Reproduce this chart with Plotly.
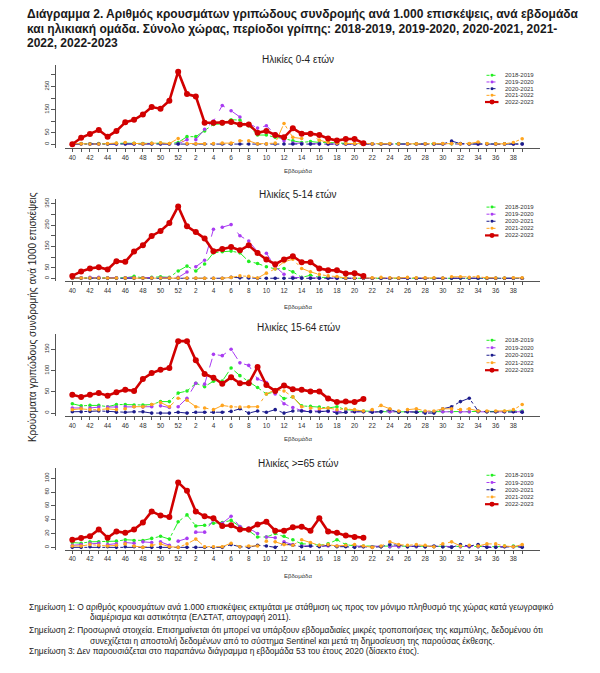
import plotly.graph_objects as go

# The page body has an 8px margin, so the figure is shrunk and shifted to fit the 600x673 window.
WIN_W, WIN_H, BODY = 600, 673, 8
W, H = WIN_W - 2 * BODY, WIN_H - 2 * BODY

weeks = [str(w) for w in list(range(40, 53)) + list(range(1, 40))]
tick_text = [w if int(w) % 2 == 0 else "" for w in weeks]

series_names = ["2018-2019", "2019-2020", "2020-2021", "2021-2022", "2022-2023"]
panel_titles = ["Ηλικίες 0-4 ετών", "Ηλικίες 5-14 ετών", "Ηλικίες 15-64 ετών", "Ηλικίες >=65 ετών"]

# ---- Ηλικίες 0-4 ----
p1_2018 = [2,3,2,3,2,4,5,4,3,4,5,3,8,
           33,33,58,86,88,106,105,80,40,40,30,25,15,8,12,8,8,5,3,2,2,2,2,2,3,2,2,2,2,2,2,2,2,2,2,2,2,2,2]
p1_2019 = [1,2,1,1,2,1,2,1,1,3,2,1,2,
           20,20,65,100,168,145,118,90,70,80,45,15,5,3,2,2,1,1,1,1,1,1,1,1,1,1,1,1,1,2,3,2,1,1,1,1,1,1,1]
p1_2020 = [1,1,1,1,1,1,1,1,1,1,1,1,1,
           1,1,1,1,1,1,1,1,1,1,1,1,1,1,1,1,1,1,1,1,1,1,1,1,1,1,1,1,1,1,14,3,1,1,1,1,1,1,1]
p1_2021 = [3,2,1,1,3,5,8,4,2,4,6,3,25,
           3,2,2,3,5,5,15,15,2,2,5,90,30,25,40,18,8,5,3,3,3,2,2,3,2,2,2,2,3,3,3,2,3,10,3,2,2,8,24]
p1_2022 = [0,28,45,62,33,58,95,106,129,161,154,188,314,
           217,207,93,93,93,96,86,86,50,58,40,30,69,46,46,40,25,16,23,23,5]

# ---- Ηλικίες 5-14 ----
p2_2018 = [3,3,3,3,3,3,3,10,3,5,8,5,35,
           58,35,68,120,125,128,120,80,70,55,45,47,31,5,15,5,5,3,2,1,1,1,1,1,1,1,1,1,1,1,1,1,1,1,1,1,1,1,1]
p2_2019 = [3,3,5,5,3,3,3,3,3,3,3,3,5,
           30,55,85,230,240,252,200,175,125,118,55,20,5,3,2,2,2,1,1,1,1,1,1,1,1,1,1,1,1,1,3,3,2,2,1,1,1,1,1]
p2_2020 = [1,1,1,1,1,1,1,1,1,1,1,1,1,
           1,1,1,1,1,5,3,2,1,1,1,1,1,1,1,1,1,1,1,1,1,1,1,1,1,1,1,1,1,1,1,2,2,1,1,1,1,1,1]
p2_2021 = [2,2,2,2,2,2,2,2,2,2,2,2,2,
           2,2,1,1,1,5,12,10,2,25,45,78,90,47,31,19,12,9,2,2,3,3,5,3,2,5,3,3,3,2,8,8,5,8,3,2,2,3,3]
p2_2022 = [12,33,47,53,42,81,78,126,155,199,222,259,337,
           244,217,187,127,138,147,132,155,119,89,67,89,104,76,76,47,39,38,23,24,12]

# ---- Ηλικίες 15-64 ----
p3_2018 = [22,17,18,18,15,20,20,19,19,20,27,27,47,
           52,70,62,75,75,106,88,75,60,45,50,34,38,17,16,14,12,15,8,6,5,4,3,3,3,3,3,3,3,3,3,3,3,3,3,3,4,5,5]
p3_2019 = [12,12,12,14,14,14,15,15,14,15,17,13,15,
           35,70,68,138,135,150,118,112,80,72,45,22,13,6,5,5,4,4,3,3,3,3,3,3,3,3,3,3,3,3,3,3,3,3,3,3,3,3,3]
p3_2020 = [3,3,4,5,4,2,2,3,3,0,0,0,2,
           0,2,2,2,2,4,10,0,5,2,8,0,5,5,3,3,5,0,2,3,3,2,3,8,2,3,2,0,0,10,15,27,35,5,3,3,3,3,2]
p3_2021 = [8,10,8,8,10,8,10,15,15,20,25,15,35,
           30,15,12,8,18,15,14,15,15,45,55,52,38,15,12,10,12,8,10,8,5,8,18,10,5,8,10,5,5,10,10,8,10,5,5,5,5,8,20]
p3_2022 = [43,38,43,47,41,49,55,52,80,94,102,106,169,
           169,124,92,83,69,84,70,70,108,66,52,65,56,55,51,51,34,26,27,26,33]

# ---- Ηλικίες >=65 ----
p4_2018 = [7,6,8,8,9,9,11,10,10,13,16,12,37,
           47,31,32,35,36,39,30,24,15,15,20,16,11,5,5,3,5,11,4,2,2,1,1,1,1,1,1,1,1,1,1,1,1,1,1,1,2,2,1]
p4_2019 = [3,4,6,6,4,5,7,6,8,7,8,3,9,
           13,22,22,40,35,45,30,28,20,15,14,8,4,2,2,2,2,2,2,1,1,1,1,1,1,1,1,1,1,1,1,1,1,1,1,1,1,1,1]
p4_2020 = [0,0,1,1,1,0,1,1,0,0,0,0,0,
           0,0,0,0,0,4,1,0,3,2,0,5,3,1,2,1,3,1,1,0,1,0,1,4,3,1,2,1,2,1,0,4,2,4,0,0,1,1,0]
p4_2021 = [2,2,4,3,2,3,5,2,0,3,5,1,0,
           5,12,1,1,1,6,1,2,2,9,8,4,3,11,7,3,4,2,3,4,2,0,2,8,4,3,4,3,1,5,8,2,3,2,5,5,2,1,4]
p4_2022 = [11,13.5,16,26,14,23,21,26,36,52,46,44,94,
           82,52,45,42,31,32,26,26,33,37,24,24,29,30,24,42,23,21,17,15,14]

panels = [
    [p1_2018, p1_2019, p1_2020, p1_2021, p1_2022],
    [p2_2018, p2_2019, p2_2020, p2_2021, p2_2022],
    [p3_2018, p3_2019, p3_2020, p3_2021, p3_2022],
    [p4_2018, p4_2019, p4_2020, p4_2021, p4_2022],
]
y_tickvals = [list(range(0, 301, 50)), list(range(0, 351, 50)), [0, 50, 100, 150], [0, 20, 40, 60, 80, 100]]
y_ticktext = [["0", "50", "", "150", "", "250", ""],
              ["0", "50", "", "150", "", "250", "", "350"],
              ["0", "50", "100", "150"],
              ["0", "20", "40", "60", "80", "100"]]

# ---------- styling / layout ----------
colors = ["#22EE22", "#A93CF2", "#1C1C8C", "#FFA51F", "#D10000"]
dashes = ["dashdot", "dash", "dashdot", "longdashdot", "solid"]
lwidths = [1, 1, 1, 1, 2.6]
msizes = [3.6, 3.6, 3.6, 3.6, 6.0]

FONT = "Liberation Sans"
AX = "#555555"

def px_x(p):
    return (p - BODY) / W

def px_y(p):
    return 1 - (p - BODY) / H

# panel geometry in window pixels
geo = [
    (63.0, 146.7, [-17.2, 343.5], 57.5, 169.5, 73.5, 6.7),
    (198.0, 280.0, [-12.6, 369.9], 193.3, 306.0, 205.7, 7.1),
    (332.7, 415.3, [-7.0, 186.5], 326.7, 438.5, 339.3, 7.5),
    (467.7, 549.3, [-3.3, 114.4], 463.3, 576.0, 474.7, 7.25),
]
X_LEFT, X_RIGHT, Y_AXIS_X = 65.0, 540.0, 55.0
x_range = [-0.83, 53.02]

fig = go.Figure()
annotations = []
shapes = []

for p, data in enumerate(panels):
    sfx = "" if p == 0 else str(p + 1)
    for i, vals in enumerate(data):
        fig.add_trace(go.Scatter(
            x=weeks[:len(vals)], y=vals, name=series_names[i],
            mode="lines+markers", showlegend=False,
            line=dict(color=colors[i], width=lwidths[i], dash=dashes[i]),
            marker=dict(color=colors[i], size=msizes[i]),
            xaxis="x" + sfx, yaxis="y" + sfx, hoverinfo="skip"))
    top, bot, yr, ty, xly, ly0, lstep = geo[p]
    dom_y = [px_y(bot), px_y(top)]
    fig.layout["xaxis" + sfx] = dict(
        domain=[px_x(X_LEFT), px_x(X_RIGHT)], anchor="y" + sfx, type="category",
        categoryorder="array", categoryarray=weeks, range=x_range,
        tickmode="array", tickvals=weeks, ticktext=tick_text,
        ticks="outside", ticklen=3, tickwidth=0.8, tickcolor=AX,
        showline=True, linecolor=AX, linewidth=0.9, showgrid=False, zeroline=False,
        tickfont=dict(family=FONT, size=6.5, color="#333"), fixedrange=True)
    fig.layout["yaxis" + sfx] = dict(
        domain=dom_y, anchor="free", position=px_x(Y_AXIS_X), range=yr,
        tickmode="array", tickvals=y_tickvals[p], ticktext=y_ticktext[p],
        ticks="outside", ticklen=4, tickwidth=0.8, tickcolor=AX, tickangle=-90,
        showline=True, linecolor=AX, linewidth=0.9, showgrid=False, zeroline=False,
        tickfont=dict(family=FONT, size=6, color="#333"), fixedrange=True)
    annotations.append(dict(text=panel_titles[p], x=px_x(298), y=px_y(ty), xref="paper", yref="paper",
                            showarrow=False, xanchor="center", yanchor="middle",
                            font=dict(family=FONT, size=10, color="#222")))
    annotations.append(dict(text="Εβδομάδα", x=px_x(298), y=px_y(xly), xref="paper", yref="paper",
                            showarrow=False, xanchor="center", yanchor="middle",
                            font=dict(family=FONT, size=6, color="#333")))
    for i, nm in enumerate(series_names):
        yy = ly0 + i * lstep
        red = (i == 4)
        shapes.append(dict(type="line", xref="paper", yref="paper",
                           x0=px_x(485 if red else 486.5), x1=px_x(498.5 if red else 497.5),
                           y0=px_y(yy), y1=px_y(yy),
                           line=dict(color=colors[i], width=2.2 if red else 1,
                                     dash="solid" if red else "dot")))
        r = 2.5 if red else 1.5
        shapes.append(dict(type="circle", xref="paper", yref="paper",
                           x0=px_x(492 - r), x1=px_x(492 + r), y0=px_y(yy - r), y1=px_y(yy + r),
                           fillcolor=colors[i], line=dict(width=0)))
        annotations.append(dict(text=nm, x=px_x(502.5), y=px_y(yy), xref="paper", yref="paper",
                                showarrow=False, xanchor="left", yanchor="middle",
                                font=dict(family=FONT, size=6, color="#333")))

# y axis title
annotations.append(dict(text="Κρούσματα γριπώδους συνδρομής ανά 1000 επισκέψεις",
                        x=px_x(32), y=px_y(316), xref="paper", yref="paper", textangle=-90,
                        showarrow=False, xanchor="center", yanchor="middle",
                        font=dict(family=FONT, size=10, color="#222")))

# main title (three lines)
title_lines = [
    (12.5, "Διάγραμμα 2. Αριθμός κρουσμάτων γριπώδους συνδρομής ανά 1.000 επισκέψεις, ανά εβδομάδα"),
    (27.0, "και ηλικιακή ομάδα. Σύνολο χώρας, περίοδοι γρίπης: 2018-2019, 2019-2020, 2020-2021, 2021-"),
    (41.5, "2022, 2022-2023"),
]
for ty, tt in title_lines:
    annotations.append(dict(text="<b>" + tt + "</b>", x=px_x(25), y=px_y(ty), xref="paper", yref="paper",
                            showarrow=False, xanchor="left", yanchor="middle",
                            font=dict(family=FONT, size=12, color="#1a1a1a")))

# notes
notes = [
    (27, 606.5, "Σημείωση 1: Ο αριθμός κρουσμάτων ανά 1.000 επισκέψεις εκτιμάται με στάθμιση ως προς τον μόνιμο πληθυσμό της χώρας κατά γεωγραφικό"),
    (88, 617.0, "διαμέρισμα και αστικότητα (ΕΛΣΤΑΤ, απογραφή 2011)."),
    (27, 630.0, "Σημείωση 2: Προσωρινά στοιχεία. Επισημαίνεται ότι μπορεί να υπάρξουν εβδομαδιαίες μικρές τροποποιήσεις της καμπύλης, δεδομένου ότι"),
    (88, 640.5, "συνεχίζεται η αποστολή δεδομένων από το σύστημα Sentinel και μετά τη δημοσίευση της παρούσας έκθεσης."),
    (27, 651.0, "Σημείωση 3: Δεν παρουσιάζεται στο παραπάνω διάγραμμα η εβδομάδα 53 του έτους 2020 (δίσεκτο έτος)."),
]
for nx, ny, nt in notes:
    annotations.append(dict(text=nt, x=px_x(nx), y=px_y(ny), xref="paper", yref="paper",
                            showarrow=False, xanchor="left", yanchor="middle",
                            font=dict(family=FONT, size=8.4, color="#222")))

fig.update_layout(
    width=W, height=H, margin=dict(l=0, r=0, t=0, b=0),
    paper_bgcolor="white", plot_bgcolor="white",
    showlegend=False, annotations=annotations, shapes=shapes,
    font=dict(family=FONT),
)

fig.write_html("out.html")
